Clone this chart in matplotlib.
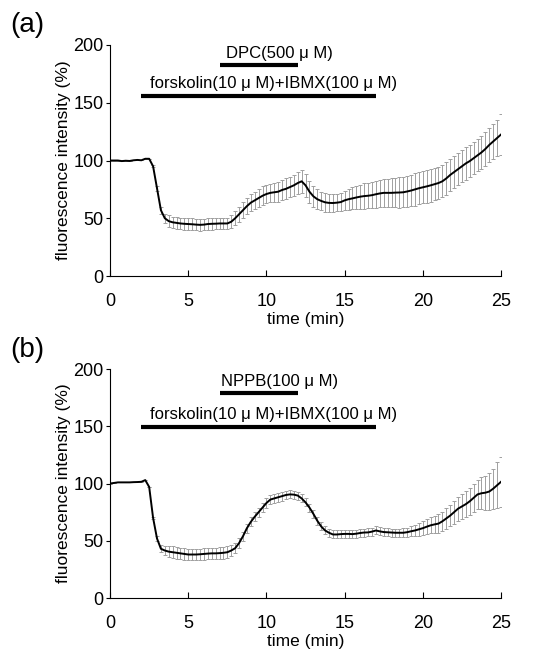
import numpy as np
import matplotlib
matplotlib.use("Agg")
import matplotlib.pyplot as plt

plt.rcParams['font.family'] = ['Liberation Sans', 'DejaVu Sans']

# time grid (min)
time = np.arange(0, 25.01, 0.25)

# panel (a): DPC
mean_a = [100, 100, 100, 99.5, 99.8, 99.6, 100.2, 100.5, 100.2, 101.5,
          101.5, 95, 76, 57, 50, 47.5, 46.5, 46, 45.5, 45.2,
          45, 44.8, 44.5, 44.3, 44.5, 45, 45.2, 45.3, 45.5, 45.5,
          45.5, 47, 50, 53.5, 57, 60.5, 63.5, 65.5, 67.5, 69.5,
          71, 72, 72.5, 73, 74.5, 75.5, 77, 78.5, 80.5, 82,
          78.5, 73, 69, 66.5, 65, 63.8, 63.3, 63.2, 63.5, 64,
          65.5, 66.5, 67.2, 68, 68.7, 69.2, 69.5, 70, 70.8, 71.5,
          72, 72, 72, 72.2, 72.3, 72.5, 73.2, 74, 75, 76,
          76.8, 77.6, 78.5, 79.5, 80.5, 82, 84.5, 87.5, 90, 92.5,
          95, 97.5, 99.5, 102, 104.5, 107, 110, 113.5, 116.5, 119.5,
          122.5]
err_a = [0, 0, 0, 0, 0, 0, 0, 0, 0, 0,
         0, 1, 2, 3, 4, 5, 5, 5, 5, 5,
         5, 5, 5, 5, 5, 5, 5, 5, 5, 5,
         5, 5.5, 6, 6.5, 7, 7, 7.5, 7.5, 8, 8,
         8, 8, 8, 8.5, 8.5, 9, 9, 9, 9.5, 10,
         10, 9.5, 9, 8.5, 8, 8, 7.5, 7.5, 7.5, 8,
         8.5, 9, 9.5, 10, 10.5, 11, 11, 11.5, 11.5, 11.5,
         12, 12, 12.5, 12.5, 13, 13, 13.5, 13.5, 14, 14,
         14, 14, 14, 14, 14, 14, 14, 14, 14, 14,
         14, 14, 14, 14, 14, 14, 14.5, 15, 15, 16,
         18]

# panel (b): NPPB
mean_b = [100, 100.5, 101, 101, 101, 101, 101.2, 101.3, 101.5, 103,
          97, 70, 52, 43, 41.5, 40.5, 40, 39.5, 39, 38.5,
          38, 38, 38, 38.2, 38.5, 38.8, 39, 39, 39.2, 39.5,
          40, 41.5, 43.5, 48, 54, 61, 66.5, 71, 75, 79,
          83, 86, 87, 88, 89, 90, 90.5, 90.3, 89.5, 87,
          83.5, 79, 73.5, 67.5, 62.5, 59, 57, 55.5, 55.5, 55.8,
          56, 56, 55.8, 56.2, 56.8, 57.2, 57.3, 58, 59, 58.2,
          57.6, 57.4, 57.2, 57, 57, 57, 57.5, 58.3, 59, 60,
          61, 62.3, 63.5, 64.3, 65, 67, 69.5, 72, 75, 78,
          80, 82, 84.5, 87.5, 90.5, 91.5, 92, 93, 95.5, 98.5,
          101.5]
err_b = [0, 0, 0, 0, 0, 0, 0, 0, 0, 0,
         0, 1, 2, 3, 4, 5, 5, 5, 5, 5,
         5, 5, 5, 5, 5, 5, 5, 5, 5, 5,
         5, 4.5, 4.5, 4, 4, 4, 4, 4, 4, 4,
         4, 4, 4, 4, 4, 3.5, 3.5, 3.5, 3.5, 3.5,
         3.5, 3.5, 3.5, 3.5, 3.5, 3.5, 3.5, 3.5, 3.5, 3.5,
         3.5, 3.5, 3.5, 3.5, 3.5, 3.5, 3.5, 3.5, 3.5, 3.5,
         3.5, 3.5, 3.5, 3.5, 3.5, 4, 4, 4.5, 5, 5.5,
         6, 6.5, 7, 7.5, 8, 8.5, 9, 9.5, 10, 10.5,
         11, 11.5, 12, 12.5, 13, 14, 15, 16, 17.5, 20,
         22]

# drug application periods (start, end) and labels
forsk_span = (2, 17)
forsk_label = "forskolin(10 \u03bc M)+IBMX(100 \u03bc M)"
blocker_span = (7, 12)
blocker_a = "DPC(500 \u03bc M)"
blocker_b = "NPPB(100 \u03bc M)"

fig = plt.figure(figsize=(5.37, 6.55), dpi=100)
ax_a = fig.add_axes([0.205, 0.5786, 0.728, 0.3527])
ax_b = fig.add_axes([0.205, 0.0870, 0.728, 0.3496])


def draw_panel(ax, mean, err, blocker, tag, y_bars, y_texts):
    ax.errorbar(time, mean, yerr=err, fmt='none', ecolor='#a0a0a0',
                elinewidth=0.7, capsize=1.5, capthick=0.7, zorder=1)
    ax.plot(time, mean, color='black', lw=1.4, zorder=2)

    ax.plot(blocker_span, [y_bars[0]] * 2, color='black', lw=3,
            solid_capstyle='butt')
    ax.plot(forsk_span, [y_bars[1]] * 2, color='black', lw=3,
            solid_capstyle='butt')
    ax.text(10.85, y_texts[0], blocker, ha='center', va='center', fontsize=12)
    ax.text(10.45, y_texts[1], forsk_label, ha='center', va='center',
            fontsize=12)

    ax.set_xlim(0, 25)
    ax.set_ylim(0, 200)
    ax.set_xticks([0, 5, 10, 15, 20, 25])
    ax.set_yticks([0, 50, 100, 150, 200])
    ax.spines['top'].set_visible(False)
    ax.spines['right'].set_visible(False)
    ax.spines['left'].set_linewidth(0.8)
    ax.spines['bottom'].set_linewidth(0.8)
    ax.tick_params(axis='x', direction='in', length=4, pad=12, labelsize=13)
    ax.tick_params(axis='y', direction='out', length=3, pad=1.5, labelsize=13)
    ax.set_xlabel("time (min)", fontsize=12.5, labelpad=2)
    ax.set_ylabel("fluorescence intensity (%)", fontsize=12.5, labelpad=2)
    ax.text(-0.255, 1.085, tag, transform=ax.transAxes, fontsize=20,
            ha='left', va='center')


draw_panel(ax_a, mean_a, err_a, blocker_a, "(a)", (182.5, 155.5), (193, 167))
draw_panel(ax_b, mean_b, err_b, blocker_b, "(b)", (179, 149), (189, 160.5))

fig.savefig("out.png", dpi=100)
